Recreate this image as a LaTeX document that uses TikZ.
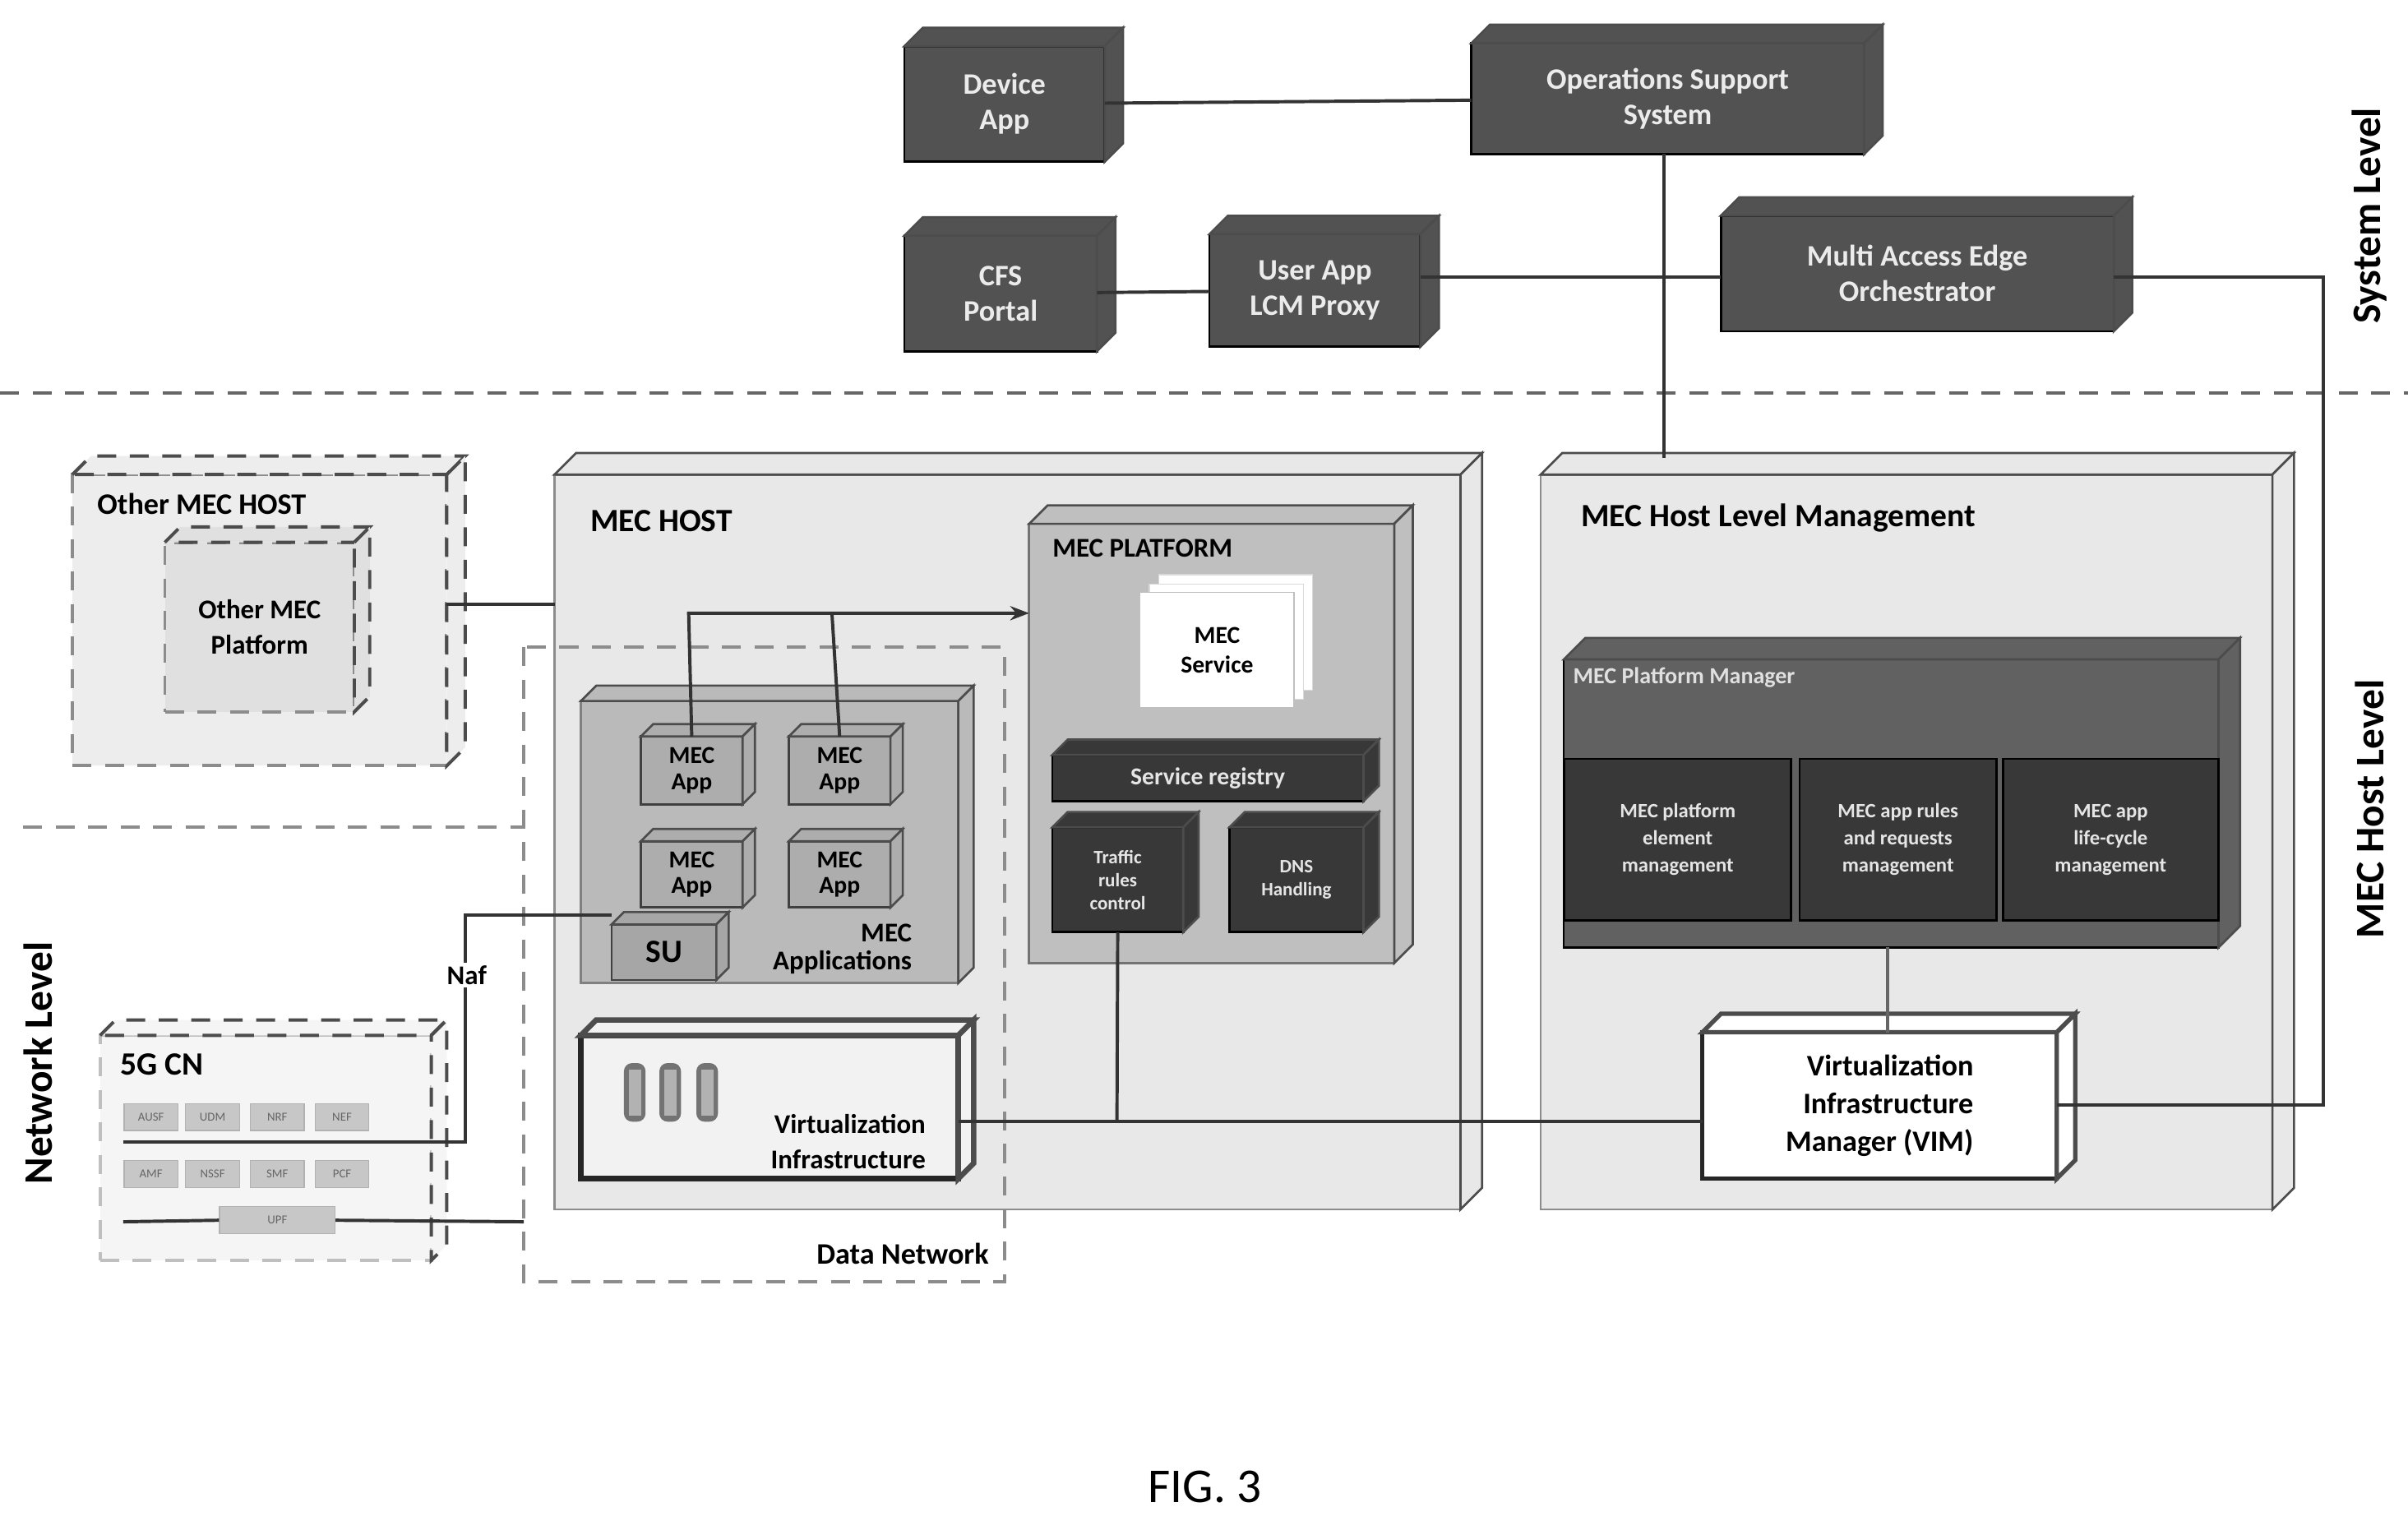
\documentclass[tikz,border=0pt]{standalone}
\usepackage{fontspec}
\setmainfont{Carlito}
\usetikzlibrary{calc,arrows.meta}
\newcommand\cb[8][]{% opts name x1 y1 x2 y2 depth text
\node[inner sep=1pt,outer sep=0pt,align=center,minimum width={(#5-#3)*0.02cm},minimum height={(#6-#4)*0.02cm},#1] (#2) at ({(#3+#5)/2},{(#4+#6)/2}) {#8};
\path[#1,draw=black!70] (#2.north west) -- ++(#7,-#7) -- ($(#2.north east)+(#7,-#7)$) -- (#2.north east) -- cycle;
\path[#1,draw=black!70] (#2.north east) -- ++(#7,-#7) -- ($(#2.south east)+(#7,-#7)$) -- (#2.south east) -- cycle;
}
\tikzset{
 dk/.style={fill=black!68,draw=black,thick,text=black!8,font=\bfseries\fontsize{11}{13}\selectfont},
 dd/.style={fill=black!78,draw=black,thick,text=black!10,align=center,font=\bfseries\fontsize{7}{8.5}\selectfont},
 lt/.style={fill=black!9,draw=black!45,thick},
 dsh/.style={draw=black!45,very thick,dash pattern=on 7pt off 5pt},
 ln/.style={draw=black!80,very thick},
 app/.style={fill=black!32,draw=black!75,thick,font=\bfseries\fontsize{9}{9.5}\selectfont},
 cn/.style={fill=black!22,draw=black!30,font=\fontsize{4.5}{5}\selectfont,text=black!60},
 lab/.style={font=\bfseries\fontsize{12}{14}\selectfont,anchor=west},
 side/.style={font=\bfseries\fontsize{15}{17}\selectfont,rotate=90},
}
\begin{document}
\begin{tikzpicture}[x=0.02cm,y=-0.02cm]
\useasboundingbox (0,0) rectangle (1563,987);
% system level
\cb[dk]{dev}{587}{30}{717}{105}{12}{Device\\App}
\cb[dk]{oss}{955}{28}{1210}{100}{12}{Operations Support\\System}
\cb[dk]{cfs}{587}{153}{712}{228}{12}{CFS\\Portal}
\cb[dk]{lcm}{785}{152}{922}{225}{12}{User App\\LCM Proxy}
\cb[dk]{meo}{1117}{140}{1372}{215}{12}{Multi Access Edge\\Orchestrator}
\draw[ln] (dev) -- (oss);
\draw[ln] (cfs) -- (lcm);
\draw[ln] (lcm.east |- 0,180) -- (meo.west |- 0,180);
\draw[dsh,black!60] (0,255) -- (1563,255);
\node[side] (sl) at (1538,140) {System Level};
\node[side] (hl) at (1538,525) {MEC Host Level};
\node[side] (nl) at (25,690) {Network Level};
% other MEC host
\cb[dsh,fill=black!7]{omh}{47}{308}{290}{497}{12}{}
\node[lab,font=\bfseries\fontsize{11}{13}\selectfont] (omhl) at (57,327) {Other MEC HOST};
\cb[dsh,fill=black!12,font=\bfseries\fontsize{10}{13}\selectfont]{omp}{107}{352}{230}{462}{10}{Other MEC\\Platform}
% MEC host
\cb[lt]{mh}{360}{308}{948}{785}{14}{}
\node[lab] (mhl) at (377,338) {MEC HOST};
\draw[ln] (omh.east |- 0,392) -- (mh.west |- 0,392);
% data network
\draw[dsh] (340,420) rectangle (652,832);
\node[font=\bfseries\fontsize{11}{13}\selectfont,anchor=east] (dn) at (648,814) {Data Network};
\draw[dsh] (15,537) -- (340,537);
% MEC platform
\cb[fill=black!25,draw=black!55,thick]{mp}{668}{340}{905}{625}{12}{}
\node[font=\bfseries\fontsize{10}{12}\selectfont,anchor=west] (mpl) at (677,356) {MEC PLATFORM};
\foreach \i in {2,1}{\draw[fill=white,draw=black!15] (740+\i*6,385-\i*6) rectangle (840+\i*6,460-\i*6);}
\node[fill=white,draw=black!25,minimum width=2cm,minimum height=1.5cm,align=center,font=\bfseries\fontsize{9}{11}\selectfont] (ms) at (790,422) {MEC\\Service};
\cb[dd,font=\bfseries\fontsize{9}{10}\selectfont]{sr}{683}{490}{885}{520}{10}{Service registry}
\cb[dd]{trc}{683}{537}{768}{605}{10}{Traffic\\rules\\control}
\cb[dd]{dns}{798}{537}{885}{605}{10}{DNS\\Handling}
% MEC applications
\cb[fill=black!27,draw=black!50,thick]{ma}{377}{455}{622}{638}{10}{}
\node[font=\bfseries\fontsize{10}{10.5}\selectfont,align=right,anchor=east] (mal) at (598,616) {MEC\\Applications};
\cb[app]{a1}{416}{478}{482}{522}{8}{MEC\\App}
\cb[app]{a2}{512}{478}{578}{522}{8}{MEC\\App}
\cb[app]{a3}{416}{546}{482}{589}{8}{MEC\\App}
\cb[app]{a4}{512}{546}{578}{589}{8}{MEC\\App}
\cb[app,fill=black!35,font=\bfseries\fontsize{12}{13}\selectfont]{su}{397}{600}{465}{636}{8}{SU}
\draw[ln,-{Stealth[length=7pt]}] (a1.north) -- (447,398) -- (mp.west |- 0,398);
\draw[ln] (a2.north) -- (540,398);
% virtualization infrastructure
\cb[fill=black!5,draw=black!85,line width=2pt]{vi}{377}{672}{622}{765}{10}{}
\node[font=\bfseries\fontsize{10}{13}\selectfont,align=right,anchor=east] (vil) at (607,741) {Virtualization\\Infrastructure};
\foreach \x in {405,428,452}{\fill[black!55,rounded corners=3pt] (\x,690) rectangle (\x+14,728);\fill[black!30] (\x+3,694) rectangle (\x+11,724);}
% 5G CN
\cb[dsh,fill=black!4,draw=black!25]{cn}{65}{672}{280}{818}{10}{}
\node[lab,font=\bfseries\fontsize{12}{14}\selectfont] (cnl) at (72,691) {5G CN};
\node[cn,minimum width=0.7cm,minimum height=0.35cm] (ausf) at (98,725) {AUSF};
\node[cn,minimum width=0.7cm,minimum height=0.35cm] (udm) at (138,725) {UDM};
\node[cn,minimum width=0.7cm,minimum height=0.35cm] (nrf) at (180,725) {NRF};
\node[cn,minimum width=0.7cm,minimum height=0.35cm] (nef) at (222,725) {NEF};
\node[cn,minimum width=0.7cm,minimum height=0.35cm] (amf) at (98,762) {AMF};
\node[cn,minimum width=0.7cm,minimum height=0.35cm] (nssf) at (138,762) {NSSF};
\node[cn,minimum width=0.7cm,minimum height=0.35cm] (smf) at (180,762) {SMF};
\node[cn,minimum width=0.7cm,minimum height=0.35cm] (pcf) at (222,762) {PCF};
\node[cn,minimum width=1.5cm,minimum height=0.35cm] (upf) at (180,792) {UPF};
\coordinate (n0) at (80,741);
\coordinate (u0) at (80,793);
\draw[ln] (su.west |- 0,594) -- (302,594) -- (302,741) -- (n0);
\node[fill=white,inner sep=1pt,font=\bfseries\fontsize{10}{12}\selectfont] (naf) at (303,633) {Naf};
\draw[ln] (u0) -- (upf.west);
\draw[ln] (upf.east) -- (340,793);
% MEC host level management
\cb[lt]{hlm}{1000}{308}{1475}{785}{14}{}
\node[lab] (hlml) at (1020,336) {MEC Host Level Management};
\draw[ln] (oss.south -| 1080,0) -- (1080,297);
\cb[fill=black!62,draw=black,thick]{pm}{1015}{428}{1440}{615}{14}{}
\node[font=\bfseries\fontsize{8.5}{10}\selectfont,text=black!12,anchor=west] (pml) at (1015,440) {MEC Platform Manager};
\node[dd,minimum width=2.94cm,minimum height=2.1cm,font=\bfseries\fontsize{7.5}{10}\selectfont] (pm1) at (1089,545) {MEC platform\\element\\management};
\node[dd,minimum width=2.56cm,minimum height=2.1cm,font=\bfseries\fontsize{7.5}{10}\selectfont] (pm2) at (1232,545) {MEC app rules\\and requests\\management};
\node[dd,minimum width=2.8cm,minimum height=2.1cm,font=\bfseries\fontsize{7.5}{10}\selectfont] (pm3) at (1370,545) {MEC app\\life-cycle\\management};
\cb[fill=white,draw=black!85,line width=1.6pt,font=\bfseries\fontsize{11}{14}\selectfont,align=right]{vim}{1105}{670}{1335}{765}{12}{\hfill Virtualization\\\hfill Infrastructure\\Manager (VIM)}
\draw[ln,black!60] (pm.south -| 1225,0) -- (vim.north -| 1225,0);
\draw[ln] (trc.south) -- (725,728);
\draw[ln] (vi.east |- 0,728) -- (vim.west |- 0,728);
\draw[ln] (vim.east |- 0,717) -- (1508,717) -- (1508,180) -- (meo.east |- 0,180);
\node[font=\fontsize{18}{20}\selectfont] (fig) at (782,965) {FIG. 3};
\end{tikzpicture}
\end{document}
